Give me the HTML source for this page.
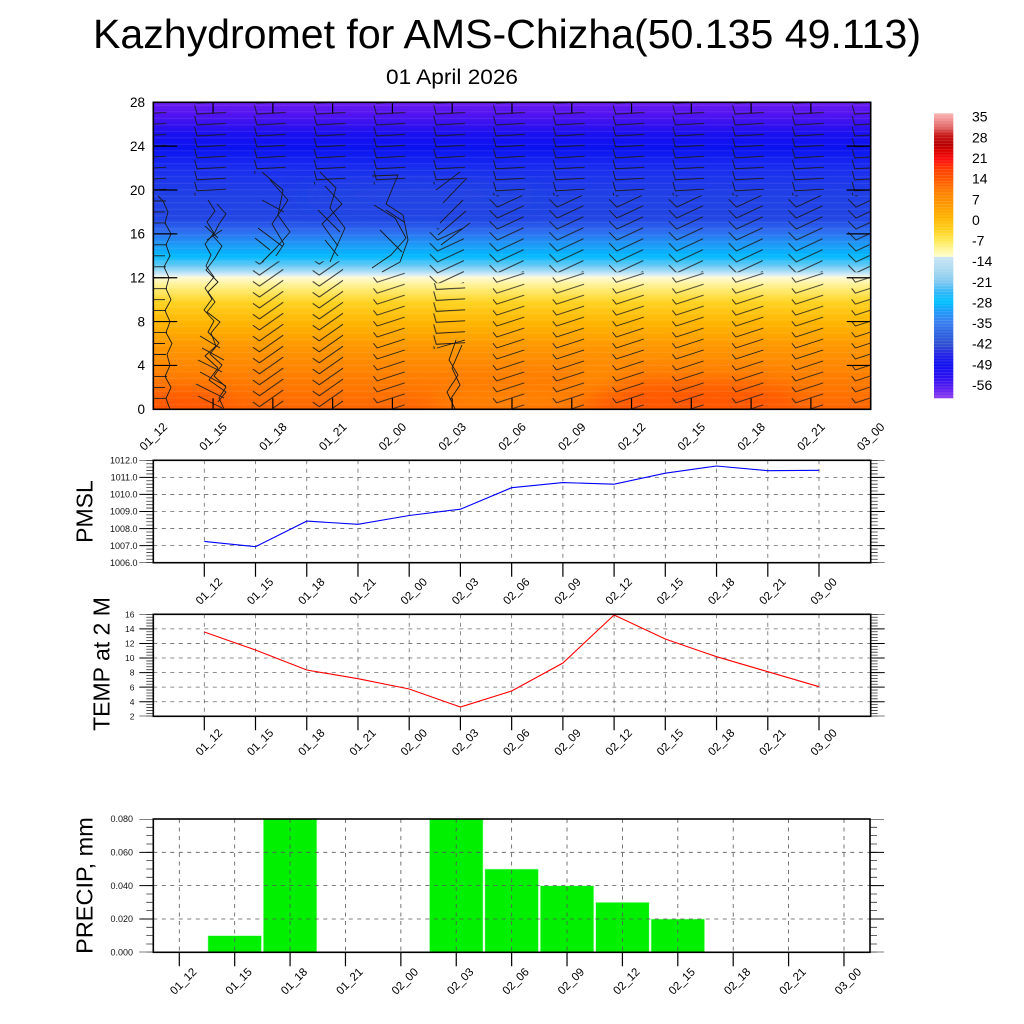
<!DOCTYPE html>
<html>
<head>
<meta charset="utf-8">
<style>
html,body{margin:0;padding:0;background:#fff;}
svg{display:block;}
text{font-family:"Liberation Sans",Arial,Helvetica,sans-serif;}
</style>
</head>
<body>
<svg width="1024" height="1024" viewBox="0 0 1024 1024" xmlns="http://www.w3.org/2000/svg">
<defs>
  <linearGradient id="tg" gradientUnits="userSpaceOnUse" x1="0" y1="102.3" x2="0" y2="409.3">
    <stop offset="0" stop-color="#6a1cf0"/>
    <stop offset="0.04" stop-color="#5212f0"/>
    <stop offset="0.10" stop-color="#1c10f0"/>
    <stop offset="0.15" stop-color="#0a12f0"/>
    <stop offset="0.21" stop-color="#1a2cf0"/>
    <stop offset="0.30" stop-color="#2040e6"/>
    <stop offset="0.38" stop-color="#2246e4"/>
    <stop offset="0.42" stop-color="#2e6cf0"/>
    <stop offset="0.47" stop-color="#1aa0f8"/>
    <stop offset="0.50" stop-color="#00b8ff"/>
    <stop offset="0.535" stop-color="#70ccf4"/>
    <stop offset="0.562" stop-color="#d4ecf8"/>
    <stop offset="0.570" stop-color="#fffbd8"/>
    <stop offset="0.60" stop-color="#fff088"/>
    <stop offset="0.65" stop-color="#ffd424"/>
    <stop offset="0.72" stop-color="#ffb400"/>
    <stop offset="0.80" stop-color="#ff9600"/>
    <stop offset="0.88" stop-color="#ff8200"/>
    <stop offset="0.95" stop-color="#ff7200"/>
    <stop offset="1" stop-color="#ff6400"/>
  </linearGradient>
  <linearGradient id="cb" gradientUnits="userSpaceOnUse" x1="0" y1="113.3" x2="0" y2="398.3">
    <stop offset="0" stop-color="#f8b4b4"/>
    <stop offset="0.0235" stop-color="#f09090"/>
    <stop offset="0.052" stop-color="#e06060"/>
    <stop offset="0.076" stop-color="#c81818"/>
    <stop offset="0.111" stop-color="#b80000"/>
    <stop offset="0.136" stop-color="#e00000"/>
    <stop offset="0.164" stop-color="#ff1010"/>
    <stop offset="0.199" stop-color="#ff4000"/>
    <stop offset="0.234" stop-color="#ff5a00"/>
    <stop offset="0.276" stop-color="#ff8000"/>
    <stop offset="0.322" stop-color="#ff9a00"/>
    <stop offset="0.367" stop-color="#ffb400"/>
    <stop offset="0.409" stop-color="#ffd020"/>
    <stop offset="0.445" stop-color="#ffe850"/>
    <stop offset="0.480" stop-color="#fff8a0"/>
    <stop offset="0.502" stop-color="#fffcd0"/>
    <stop offset="0.506" stop-color="#c8e6f4"/>
    <stop offset="0.55" stop-color="#a8d8f0"/>
    <stop offset="0.592" stop-color="#80c8f0"/>
    <stop offset="0.628" stop-color="#30b8f8"/>
    <stop offset="0.663" stop-color="#00c0ff"/>
    <stop offset="0.698" stop-color="#2098f8"/>
    <stop offset="0.733" stop-color="#3a80f0"/>
    <stop offset="0.778" stop-color="#2c60e0"/>
    <stop offset="0.813" stop-color="#3050d0"/>
    <stop offset="0.849" stop-color="#2020e8"/>
    <stop offset="0.884" stop-color="#1010f0"/>
    <stop offset="0.93" stop-color="#3010f0"/>
    <stop offset="0.97" stop-color="#6020f0"/>
    <stop offset="1" stop-color="#9040f0"/>
  </linearGradient>
  <clipPath id="tc"><rect x="153.3" y="102.3" width="717.4" height="307"/></clipPath>
  <filter id="bl" x="-50%" y="-50%" width="200%" height="200%"><feGaussianBlur stdDeviation="10"/></filter>
  <pattern id="pC" patternUnits="userSpaceOnUse" x="0" y="102.3" width="40" height="6.5">
    <path d="M0,3H40" stroke="#ffffff" stroke-opacity="0.12" stroke-width="0.7"/>
  </pattern>
  <pattern id="pCb" patternUnits="userSpaceOnUse" x="0" y="0" width="20" height="2.9">
    <path d="M0,1.4H20" stroke="#ffffff" stroke-opacity="0.18" stroke-width="0.6"/>
  </pattern>
  <pattern id="pU" patternUnits="userSpaceOnUse" x="128.3" y="403.82" width="59.78" height="10.964">
    <path d="M6.52,-2.76L9.02,6.24L37.98,4.72M6.52,8.2L9.02,17.2L37.98,15.68" fill="none" stroke="#1a1a1a" stroke-width="0.9" stroke-linejoin="round"/>
  </pattern>
  <pattern id="pM" patternUnits="userSpaceOnUse" x="128.3" y="403.82" width="59.78" height="10.964">
    <path d="M2.58,-7.13L10.36,0.65L36.64,-11.61M2.58,3.83L10.36,11.61L36.64,-0.65M2.58,14.79L10.36,22.57L36.64,10.31" fill="none" stroke="#1a1a1a" stroke-width="0.9" stroke-linejoin="round"/>
  </pattern>
  <pattern id="pL" patternUnits="userSpaceOnUse" x="128.3" y="403.82" width="59.78" height="10.964">
    <path d="M6.02,5.23L9.71,9.96L37.29,1.0" fill="none" stroke="#1a1a1a" stroke-width="0.9" stroke-linejoin="round"/>
  </pattern>
  <pattern id="pL2" patternUnits="userSpaceOnUse" x="128.3" y="403.82" width="59.78" height="10.964">
    <path d="M5.07,-1.75L11.62,2.84L35.38,-13.8M5.07,9.21L11.62,13.8L35.38,-2.84M5.07,20.17L11.62,24.76L35.38,8.12" fill="none" stroke="#1a1a1a" stroke-width="0.9" stroke-linejoin="round"/>
  </pattern>
</defs>

<rect x="0" y="0" width="1024" height="1024" fill="#ffffff"/>

<!-- Titles -->
<text x="93" y="48" font-size="41" textLength="828" lengthAdjust="spacingAndGlyphs" fill="#000">Kazhydromet for AMS-Chizha(50.135 49.113)</text>
<text x="386" y="84" font-size="21" textLength="132" lengthAdjust="spacingAndGlyphs" fill="#000">01 April 2026</text>

<!-- ===== TOP PANEL ===== -->
<g clip-path="url(#tc)">
  <rect x="153.3" y="102.3" width="717.4" height="307" fill="url(#tg)"/>
  <g filter="url(#bl)">
    <ellipse cx="175" cy="405" rx="60" ry="14" fill="#ff4a00" opacity="0.6"/>
    <ellipse cx="510" cy="402" rx="80" ry="12" fill="#ffa000" opacity="0.5"/>
    <ellipse cx="600" cy="385" rx="25" ry="20" fill="#ff9a00" opacity="0.5"/>
    <ellipse cx="690" cy="400" rx="110" ry="18" fill="#ff4800" opacity="0.6"/>
    <ellipse cx="420" cy="195" rx="120" ry="14" fill="#2848e0" opacity="0.4"/>
  </g>
  <rect x="153.3" y="102.3" width="717.4" height="307" fill="url(#pC)"/>

  <!-- wind barbs via patterns -->
  <rect x="128.3" y="96.83" width="119.56" height="98.67" fill="url(#pU)"/>
  <rect x="247.86" y="96.83" width="59.78" height="76.75" fill="url(#pU)"/>
  <rect x="247.86" y="261.29" width="59.78" height="153.49" fill="url(#pL2)"/>
  <rect x="307.64" y="96.83" width="59.78" height="87.71" fill="url(#pU)"/>
  <rect x="307.64" y="261.29" width="59.78" height="153.49" fill="url(#pL2)"/>
  <rect x="367.42" y="96.83" width="59.78" height="87.71" fill="url(#pU)"/>
  <rect x="367.42" y="272.25" width="59.78" height="142.53" fill="url(#pL)"/>
  <rect x="427.2" y="96.83" width="59.78" height="87.71" fill="url(#pU)"/>
  <rect x="427.2" y="228.4" width="59.78" height="54.8" fill="url(#pM)"/>
  <rect x="427.2" y="283.2" width="59.78" height="65.8" fill="url(#pU)"/>
  <rect x="486.98" y="96.83" width="418.46" height="98.67" fill="url(#pU)"/>
  <rect x="486.98" y="195.5" width="418.46" height="76.75" fill="url(#pM)"/>
  <rect x="486.98" y="272.25" width="418.46" height="142.53" fill="url(#pL)"/>

  <!-- irregular barbs -->
  <g fill="none" stroke="#1a1a1a" stroke-width="0.9" stroke-linejoin="round">
    <polyline points="170,409.3 166,398.3 171,387.4 165,376.4 170,365.4 167,354.5 172,343.5 166,332.6 170,321.6 165,310.6 171,299.7 166,288.7 169,277.7 164,266.8 170,255.8 166,244.8 171,233.9 165,222.9 168,211.9 163,201 158,196"/>
    <path d="M153,409.3h12M153,398.3h13M153,387.4h12M153,376.4h14M153,365.4h12M153,354.5h13M153,343.5h12M153,332.6h14M153,321.6h12M153,310.6h13M153,299.7h12M153,288.7h14M153,277.7h12M153,266.8h13M153,255.8h12M153,244.8h14M153,233.9h12M153,222.9h13M153,211.9h12M153,201h13"/>
    <polyline points="224,409 219,398 226,387 214,376 222,365 210,354 219,343 208,332 214,321 204,310 212,299 205,288 214,277 206,266 211,255 205,244 214,233 207,222 215,211 208,200"/>
    <polyline points="218,402 226,392 209,380 218,368 205,356 216,346 211,333 220,322 207,312 215,302 208,292 218,282 206,270 215,258 222,246 213,236 219,224 226,214 217,204"/>
    <path d="M198,396L222,408M196,384L224,398M200,372L226,386M198,360L222,372M202,348L224,360M200,336L220,348M205,226L218,238M207,240L222,230"/>
    <path d="M262,172L283,190L278,215L290,232L276,248L262,262M270,180L288,200L272,224L284,244L276,256M258,228L282,246M262,200L284,212M255,238L270,250"/>
    <path d="M320,172L336,188L330,208L345,228L336,248L330,262M325,186L342,204L322,224L338,246M318,210L340,232M325,240L338,256"/>
    <path d="M372,176L398,175L386,204L403,215L408,240L400,262L382,272M374,205L395,218L406,238L391,255L372,268M380,230L402,252M386,210L404,222"/>
    <path d="M440,223L463,200M443,203L467,178M438,235L466,211M441,245L470,223M436,190L460,172"/>
    <path d="M456,340L449,360L458,375L447,392L455,409M462,345L452,368L460,385L450,400M437,348L465,340"/>
  </g>
</g>
<!-- top panel ticks & box -->
<g stroke="#000" stroke-width="1.2" fill="none">
  <path d="M153.3,365.44h24M153.3,321.58h24M153.3,277.72h24M153.3,233.86h24M153.3,190h24M153.3,146.14h24"/>
  <path d="M870.7,365.44h-24M870.7,321.58h-24M870.7,277.72h-24M870.7,233.86h-24M870.7,190h-24M870.7,146.14h-24"/>
  <path d="M213.08,102.3v11M272.86,102.3v11M332.64,102.3v11M392.42,102.3v11M452.2,102.3v11M511.98,102.3v11M571.76,102.3v11M631.54,102.3v11M691.32,102.3v11M751.1,102.3v11M810.88,102.3v11"/>
  <path d="M213.08,409.3v-11M272.86,409.3v-11M332.64,409.3v-11M392.42,409.3v-11M452.2,409.3v-11M511.98,409.3v-11M571.76,409.3v-11M631.54,409.3v-11M691.32,409.3v-11M751.1,409.3v-11M810.88,409.3v-11"/>
  <rect x="153.3" y="102.3" width="717.4" height="307" stroke-width="1.6"/>
</g>
<g font-size="13.5" text-anchor="end" fill="#000">
  <text x="145" y="107.1">28</text>
  <text x="145" y="151">24</text>
  <text x="145" y="194.8">20</text>
  <text x="145" y="238.7">16</text>
  <text x="145" y="282.5">12</text>
  <text x="145" y="326.4">8</text>
  <text x="145" y="370.2">4</text>
  <text x="145" y="414.1">0</text>
</g>
<g font-size="12" text-anchor="end" fill="#000">
  <text transform="translate(168,427.6) rotate(-45)">01_12</text>
  <text transform="translate(227.78,427.6) rotate(-45)">01_15</text>
  <text transform="translate(287.56,427.6) rotate(-45)">01_18</text>
  <text transform="translate(347.34,427.6) rotate(-45)">01_21</text>
  <text transform="translate(407.12,427.6) rotate(-45)">02_00</text>
  <text transform="translate(466.9,427.6) rotate(-45)">02_03</text>
  <text transform="translate(526.68,427.6) rotate(-45)">02_06</text>
  <text transform="translate(586.46,427.6) rotate(-45)">02_09</text>
  <text transform="translate(646.24,427.6) rotate(-45)">02_12</text>
  <text transform="translate(706.02,427.6) rotate(-45)">02_15</text>
  <text transform="translate(765.8,427.6) rotate(-45)">02_18</text>
  <text transform="translate(825.58,427.6) rotate(-45)">02_21</text>
  <text transform="translate(885.36,427.6) rotate(-45)">03_00</text>
</g>

<!-- colorbar -->
<rect x="934" y="113.3" width="19.3" height="285" fill="url(#cb)"/>
<rect x="934" y="113.3" width="19.3" height="285" fill="url(#pCb)"/>
<g font-size="14" fill="#000">
  <text x="972" y="121.7">35</text>
  <text x="972" y="142.3">28</text>
  <text x="972" y="163">21</text>
  <text x="972" y="183.6">14</text>
  <text x="972" y="204.3">7</text>
  <text x="972" y="224.9">0</text>
  <text x="972" y="245.5">-7</text>
  <text x="972" y="266.2">-14</text>
  <text x="972" y="286.8">-21</text>
  <text x="972" y="307.5">-28</text>
  <text x="972" y="328.1">-35</text>
  <text x="972" y="348.7">-42</text>
  <text x="972" y="369.4">-49</text>
  <text x="972" y="390">-56</text>
</g>

<!-- ===== PMSL PANEL ===== -->
<g stroke="#6a6a6a" stroke-width="0.8" stroke-dasharray="4 4.5" fill="none">
  <path d="M204.3,460.3V562.7M255.5,460.3V562.7M306.75,460.3V562.7M357.98,460.3V562.7M409.2,460.3V562.7M460.4,460.3V562.7M511.65,460.3V562.7M562.9,460.3V562.7M614.1,460.3V562.7M665.3,460.3V562.7M716.55,460.3V562.7M767.8,460.3V562.7M819,460.3V562.7"/>
  <path d="M153.3,545.63H870.7M153.3,528.57H870.7M153.3,511.5H870.7M153.3,494.43H870.7M153.3,477.37H870.7"/>
</g>
<polyline fill="none" stroke="#0000ff" stroke-width="1.1" points="204.3,541.4 255.5,546.7 306.75,521.1 357.98,524.3 409.2,515.5 460.4,509.2 511.65,487.7 562.9,482.6 614.1,484.2 665.3,473.2 716.55,466 767.8,470.7 819,470.3"/>
<g stroke="#000" fill="none">
  <line x1="149.8" y1="460.3" x2="149.8" y2="562.7" stroke-width="7" stroke-dasharray="0.8 2.613" stroke-dashoffset="0.4" stroke="#333"/>
  <line x1="146.3" y1="460.3" x2="146.3" y2="562.7" stroke-width="14" stroke-dasharray="1 16.067" stroke-dashoffset="0.5"/>
  <line x1="874.2" y1="460.3" x2="874.2" y2="562.7" stroke-width="7" stroke-dasharray="0.8 2.613" stroke-dashoffset="0.4" stroke="#333"/>
  <line x1="877.7" y1="460.3" x2="877.7" y2="562.7" stroke-width="14" stroke-dasharray="1 16.067" stroke-dashoffset="0.5"/>
  <path stroke-width="1.2" d="M204.3,562.7v14M255.5,562.7v14M306.75,562.7v14M357.98,562.7v14M409.2,562.7v14M460.4,562.7v14M511.65,562.7v14M562.9,562.7v14M614.1,562.7v14M665.3,562.7v14M716.55,562.7v14M767.8,562.7v14M819,562.7v14"/>
  <rect x="153.3" y="460.3" width="717.4" height="102.4" stroke-width="1.6"/>
</g>
<g font-size="9" text-anchor="end" fill="#111">
  <text x="137.5" y="463.5">1012.0</text>
  <text x="137.5" y="480.6">1011.0</text>
  <text x="137.5" y="497.6">1010.0</text>
  <text x="137.5" y="514.7">1009.0</text>
  <text x="137.5" y="531.8">1008.0</text>
  <text x="137.5" y="548.8">1007.0</text>
  <text x="137.5" y="565.9">1006.0</text>
</g>
<text transform="translate(92.5,511.5) rotate(-90)" font-size="23" text-anchor="middle" fill="#000">PMSL</text>
<g font-size="11.5" text-anchor="end" fill="#000">
  <text transform="translate(223,582.6) rotate(-45)">01_12</text>
  <text transform="translate(274.2,582.6) rotate(-45)">01_15</text>
  <text transform="translate(325.45,582.6) rotate(-45)">01_18</text>
  <text transform="translate(376.68,582.6) rotate(-45)">01_21</text>
  <text transform="translate(427.9,582.6) rotate(-45)">02_00</text>
  <text transform="translate(479.1,582.6) rotate(-45)">02_03</text>
  <text transform="translate(530.35,582.6) rotate(-45)">02_06</text>
  <text transform="translate(581.6,582.6) rotate(-45)">02_09</text>
  <text transform="translate(632.8,582.6) rotate(-45)">02_12</text>
  <text transform="translate(684,582.6) rotate(-45)">02_15</text>
  <text transform="translate(735.25,582.6) rotate(-45)">02_18</text>
  <text transform="translate(786.5,582.6) rotate(-45)">02_21</text>
  <text transform="translate(837.7,582.6) rotate(-45)">03_00</text>
</g>

<!-- ===== TEMP PANEL ===== -->
<g stroke="#6a6a6a" stroke-width="0.8" stroke-dasharray="4 4.5" fill="none">
  <path d="M204.3,614.3V716.3M255.5,614.3V716.3M306.75,614.3V716.3M357.98,614.3V716.3M409.2,614.3V716.3M460.4,614.3V716.3M511.65,614.3V716.3M562.9,614.3V716.3M614.1,614.3V716.3M665.3,614.3V716.3M716.55,614.3V716.3M767.8,614.3V716.3M819,614.3V716.3"/>
  <path d="M153.3,628.87H870.7M153.3,643.44H870.7M153.3,658.01H870.7M153.3,672.59H870.7M153.3,687.16H870.7M153.3,701.73H870.7"/>
</g>
<polyline fill="none" stroke="#ff0000" stroke-width="1.1" points="204.3,632 255.5,650 306.75,670 357.98,678.7 409.2,689 460.4,707 511.65,691 562.9,663 614.1,615 665.3,639 716.55,656.7 767.8,671.7 819,686.7"/>
<g stroke="#000" fill="none">
  <line x1="149.8" y1="614.3" x2="149.8" y2="716.3" stroke-width="7" stroke-dasharray="0.8 2.114" stroke-dashoffset="0.4" stroke="#333"/>
  <line x1="146.3" y1="614.3" x2="146.3" y2="716.3" stroke-width="14" stroke-dasharray="1 13.571" stroke-dashoffset="0.5"/>
  <line x1="874.2" y1="614.3" x2="874.2" y2="716.3" stroke-width="7" stroke-dasharray="0.8 2.114" stroke-dashoffset="0.4" stroke="#333"/>
  <line x1="877.7" y1="614.3" x2="877.7" y2="716.3" stroke-width="14" stroke-dasharray="1 13.571" stroke-dashoffset="0.5"/>
  <path stroke-width="1.2" d="M204.3,716.3v14M255.5,716.3v14M306.75,716.3v14M357.98,716.3v14M409.2,716.3v14M460.4,716.3v14M511.65,716.3v14M562.9,716.3v14M614.1,716.3v14M665.3,716.3v14M716.55,716.3v14M767.8,716.3v14M819,716.3v14"/>
  <rect x="153.3" y="614.3" width="717.4" height="102" stroke-width="1.6"/>
</g>
<g font-size="8.5" text-anchor="end" fill="#111">
  <text x="134.5" y="617.4">16</text>
  <text x="134.5" y="632">14</text>
  <text x="134.5" y="646.6">12</text>
  <text x="134.5" y="661.1">10</text>
  <text x="134.5" y="675.7">8</text>
  <text x="134.5" y="690.3">6</text>
  <text x="134.5" y="704.8">4</text>
  <text x="134.5" y="719.4">2</text>
</g>
<text transform="translate(109.5,664) rotate(-90)" font-size="23" text-anchor="middle" fill="#000">TEMP at 2 M</text>
<g font-size="11.5" text-anchor="end" fill="#000">
  <text transform="translate(223,733.6) rotate(-45)">01_12</text>
  <text transform="translate(274.2,733.6) rotate(-45)">01_15</text>
  <text transform="translate(325.45,733.6) rotate(-45)">01_18</text>
  <text transform="translate(376.68,733.6) rotate(-45)">01_21</text>
  <text transform="translate(427.9,733.6) rotate(-45)">02_00</text>
  <text transform="translate(479.1,733.6) rotate(-45)">02_03</text>
  <text transform="translate(530.35,733.6) rotate(-45)">02_06</text>
  <text transform="translate(581.6,733.6) rotate(-45)">02_09</text>
  <text transform="translate(632.8,733.6) rotate(-45)">02_12</text>
  <text transform="translate(684,733.6) rotate(-45)">02_15</text>
  <text transform="translate(735.25,733.6) rotate(-45)">02_18</text>
  <text transform="translate(786.5,733.6) rotate(-45)">02_21</text>
  <text transform="translate(837.7,733.6) rotate(-45)">03_00</text>
</g>

<!-- ===== PRECIP PANEL ===== -->
<g fill="#00f000" stroke="#c8ffc8" stroke-width="0.6">
  <rect x="207.89" y="935.6" width="53.6" height="16.7"/>
  <rect x="263.28" y="819" width="53.6" height="133.3"/>
  <rect x="429.45" y="819" width="53.6" height="133.3"/>
  <rect x="484.84" y="869" width="53.6" height="83.3"/>
  <rect x="540.23" y="885.65" width="53.6" height="66.65"/>
  <rect x="595.62" y="902.3" width="53.6" height="50"/>
  <rect x="651.01" y="918.98" width="53.6" height="33.32"/>
</g>
<g stroke="#555" stroke-width="0.8" stroke-dasharray="4 4.5" fill="none">
  <path d="M179.3,819V952.3M234.69,819V952.3M290.08,819V952.3M345.47,819V952.3M400.86,819V952.3M456.25,819V952.3M511.64,819V952.3M567.03,819V952.3M622.42,819V952.3M677.81,819V952.3M733.2,819V952.3M788.59,819V952.3M843.98,819V952.3"/>
  <path d="M153.3,852.33H870M153.3,885.65H870M153.3,918.98H870"/>
</g>
<g stroke="#000" fill="none">
  <line x1="149.8" y1="819" x2="149.8" y2="952.3" stroke-width="7" stroke-dasharray="0.8 7.531" stroke-dashoffset="0.4" stroke="#333"/>
  <line x1="146.3" y1="819" x2="146.3" y2="952.3" stroke-width="14" stroke-dasharray="1 32.325" stroke-dashoffset="0.5"/>
  <line x1="873.5" y1="819" x2="873.5" y2="952.3" stroke-width="7" stroke-dasharray="0.8 7.531" stroke-dashoffset="0.4" stroke="#333"/>
  <line x1="877" y1="819" x2="877" y2="952.3" stroke-width="14" stroke-dasharray="1 32.325" stroke-dashoffset="0.5"/>
  <path stroke-width="1.2" d="M179.3,952.3v14M234.69,952.3v14M290.08,952.3v14M345.47,952.3v14M400.86,952.3v14M456.25,952.3v14M511.64,952.3v14M567.03,952.3v14M622.42,952.3v14M677.81,952.3v14M733.2,952.3v14M788.59,952.3v14M843.98,952.3v14"/>
  <rect x="153.3" y="819" width="716.7" height="133.3" stroke-width="1.6"/>
</g>
<g font-size="9" text-anchor="end" fill="#111">
  <text x="133" y="822.2">0.080</text>
  <text x="133" y="855.5">0.060</text>
  <text x="133" y="888.9">0.040</text>
  <text x="133" y="922.2">0.020</text>
  <text x="133" y="955.5">0.000</text>
</g>
<text transform="translate(92.5,885.5) rotate(-90)" font-size="23.5" text-anchor="middle" fill="#000">PRECIP, mm</text>
<g font-size="11.5" text-anchor="end" fill="#000">
  <text transform="translate(197.3,972.6) rotate(-45)">01_12</text>
  <text transform="translate(252.69,972.6) rotate(-45)">01_15</text>
  <text transform="translate(308.08,972.6) rotate(-45)">01_18</text>
  <text transform="translate(363.47,972.6) rotate(-45)">01_21</text>
  <text transform="translate(418.86,972.6) rotate(-45)">02_00</text>
  <text transform="translate(474.25,972.6) rotate(-45)">02_03</text>
  <text transform="translate(529.64,972.6) rotate(-45)">02_06</text>
  <text transform="translate(585.03,972.6) rotate(-45)">02_09</text>
  <text transform="translate(640.42,972.6) rotate(-45)">02_12</text>
  <text transform="translate(695.81,972.6) rotate(-45)">02_15</text>
  <text transform="translate(751.2,972.6) rotate(-45)">02_18</text>
  <text transform="translate(806.59,972.6) rotate(-45)">02_21</text>
  <text transform="translate(861.98,972.6) rotate(-45)">03_00</text>
</g>
</svg>
</body>
</html>
